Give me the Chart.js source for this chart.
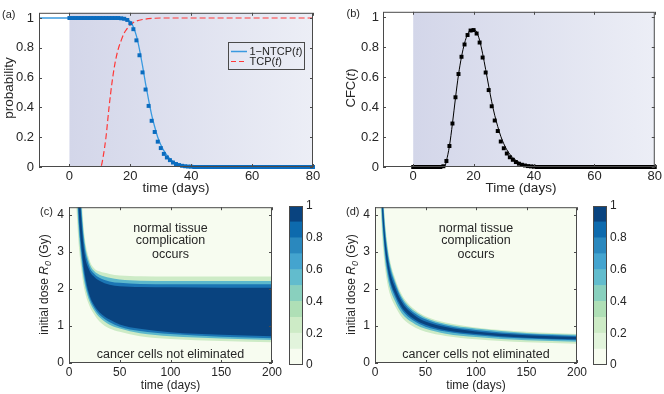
<!DOCTYPE html>
<html>
<head>
<meta charset="utf-8">
<script src="https://cdn.jsdelivr.net/npm/chart.js@4.4.1/dist/chart.umd.min.js"></script>
<style>
  body { margin: 0; background: #fff; }
  #fig { position: relative; width: 664px; height: 394px; overflow: hidden; }
  #fig canvas { position: absolute; }
</style>
</head>
<body>
<div id="fig">
  <canvas id="chartA" width="330" height="202" style="left:0px;top:0px"></canvas>
  <canvas id="chartB" width="334" height="202" style="left:330px;top:0px"></canvas>
  <canvas id="chartC" width="285" height="199" style="left:0px;top:195px"></canvas>
  <canvas id="barC" width="50" height="199" style="left:280px;top:195px"></canvas>
  <canvas id="chartD" width="262" height="199" style="left:330px;top:195px"></canvas>
  <canvas id="barD" width="50" height="199" style="left:584px;top:195px"></canvas>
</div>
<script>
const F = '"Liberation Sans", Arial, Helvetica, sans-serif';
Chart.defaults.font.family = F;
Chart.defaults.font.size = 12;
Chart.defaults.color = '#262626';

// ---- panel (a), (b): daily samples and model curves ----
const days = [0,1,2,3,4,5,6,7,8,9,10,11,12,13,14,15,16,17,18,19,20,21,22,23,24,25,26,27,28,29,
  30,31,32,33,34,35,36,37,38,39,40,41,42,43,44,45,46,47,48,49,50,51,52,53,54,55,56,57,58,59,
  60,61,62,63,64,65,66,67,68,69,70,71,72,73,74,75,76,77,78,79,80];
const ntcpMarks = [1,1,1,1,1,1,1,1,1,1,
  1,1,1,1,1,1,1,0.998,0.995,0.987,
  0.965,0.925,0.85,0.75,0.635,0.52,0.41,0.31,0.235,0.17,
  0.127,0.088,0.064,0.046,0.03,0.02,0.013,0.008,0.005,0.003,
  0.002,0,0,0,0,0,0,0,0,0,
  0,0,0,0,0,0,0,0,0,0,
  0,0,0,0,0,0,0,0,0,0,
  0,0,0,0,0,0,0,0,0,0,
  0];
const ntcpT = [-10,0,10,15,17,18,19,20,21,22,23,24,25,26,27,28,29,30,31,32,33,34,35,36,37,38,40,42,45,50,60,80];
const ntcpLine = [1,1,1,1,0.999,0.997,0.99,0.975,0.94,0.88,0.79,0.68,0.56,0.45,0.35,0.27,0.2,0.15,
  0.11,0.08,0.055,0.038,0.026,0.018,0.012,0.008,0.004,0.002,0,0,0,0];
const tcpT = [-10,10,10.5,11,12,13,14,15,16,17,18,19,20,21,22,24,27,30,40,80];
const tcpLine = [0,0,0.01,0.06,0.2,0.4,0.57,0.7,0.79,0.85,0.9,0.93,0.955,0.97,0.98,0.99,0.997,1,1,1];

const cfcMarks = [0,0,0,0,0,0,0,0,0,0,
  0.005,0.04,0.14,0.29,0.465,0.62,0.735,0.817,0.88,0.91,
  0.913,0.89,0.83,0.73,0.63,0.513,0.405,0.31,0.24,0.17,
  0.125,0.09,0.065,0.048,0.033,0.022,0.015,0.01,0.006,0.004,
  0.002,0,0,0,0,0,0,0,0,0,
  0,0,0,0,0,0,0,0,0,0,
  0,0,0,0,0,0,0,0,0,0,
  0,0,0,0,0,0,0,0,0,0,
  0];
const cfcT = [-10,10,10.5,11,12,13,14,15,16,17,18,19,20,21,22,23,24,25,26,27,28,29,30,31,32,33,34,35,36,37,38,40,43,46,80];
const cfcLine = [0,0,0.005,0.04,0.14,0.29,0.46,0.615,0.735,0.825,0.885,0.915,0.92,0.9,0.845,0.755,0.65,0.54,
  0.435,0.345,0.27,0.205,0.155,0.115,0.085,0.062,0.045,0.032,0.022,0.015,0.01,0.005,0.001,0,0];

const xTicksTop = [0, 20, 40, 60, 80];
const yTicksTop = [0, 0.2, 0.4, 0.6, 0.8, 1];

// ---- panel (c), (d): contour boundaries (dose in Gy) at each time ----
const heatT = [5, 7, 8, 10, 12, 15, 20, 25, 30, 40, 50, 70, 100, 150, 200];
const cHi10 = [10, 8, 7, 5.5, 4.6, 3.5, 2.8, 2.55, 2.47, 2.4, 2.36, 2.34, 2.33, 2.33, 2.33];
const cHi40 = [9.6, 7.6, 6.7, 5.35, 4.35, 3.35, 2.7, 2.47, 2.38, 2.3, 2.25, 2.22, 2.21, 2.21, 2.21];
const cHi70 = [9.3, 7.3, 6.5, 5.2, 4.15, 3.2, 2.6, 2.4, 2.3, 2.2, 2.16, 2.13, 2.12, 2.12, 2.12];
const cHi90 = [9, 7, 6.2, 5.0, 3.9, 3.0, 2.5, 2.32, 2.22, 2.11, 2.07, 2.05, 2.04, 2.03, 2.03];
const cLo90 = [7.5, 5.6, 5.0, 3.9, 3.2, 2.5, 1.85, 1.55, 1.37, 1.17, 1.04, 0.92, 0.83, 0.76, 0.72];
const cLo70 = [7.2, 5.2, 4.65, 3.65, 3.0, 2.35, 1.77, 1.48, 1.3, 1.1, 0.98, 0.86, 0.78, 0.71, 0.67];
const cLo40 = [6.9, 4.85, 4.3, 3.4, 2.8, 2.2, 1.68, 1.41, 1.23, 1.03, 0.93, 0.8, 0.72, 0.66, 0.62];
const cLo10 = [6.5, 4.4, 3.85, 3.05, 2.55, 2.0, 1.55, 1.3, 1.12, 0.93, 0.84, 0.72, 0.65, 0.59, 0.56];

const dHi10 = [6.79, 5.15, 4.62, 3.80, 3.28, 2.75, 2.28, 1.93, 1.70, 1.43, 1.26, 1.09, 0.96, 0.84, 0.78];
const dHi40 = [6.55, 4.97, 4.46, 3.67, 3.16, 2.66, 2.20, 1.86, 1.64, 1.38, 1.22, 1.05, 0.93, 0.81, 0.76];
const dHi70 = [6.32, 4.80, 4.31, 3.54, 3.05, 2.56, 2.13, 1.80, 1.58, 1.33, 1.18, 1.01, 0.89, 0.78, 0.73];
const dHi90 = [6.03, 4.58, 4.11, 3.38, 2.91, 2.44, 2.03, 1.72, 1.51, 1.27, 1.12, 0.97, 0.85, 0.75, 0.70];
const dLo90 = [5.51, 4.18, 3.75, 3.09, 2.66, 2.23, 1.85, 1.57, 1.38, 1.16, 1.03, 0.88, 0.78, 0.68, 0.64];
const dLo70 = [5.28, 4.00, 3.59, 2.96, 2.55, 2.14, 1.77, 1.50, 1.32, 1.11, 0.98, 0.85, 0.75, 0.66, 0.61];
const dLo40 = [4.93, 3.74, 3.36, 2.76, 2.38, 2.00, 1.66, 1.40, 1.23, 1.04, 0.92, 0.79, 0.70, 0.61, 0.57];
const dLo10 = [4.52, 3.43, 3.08, 2.54, 2.18, 1.83, 1.52, 1.29, 1.13, 0.95, 0.84, 0.73, 0.64, 0.56, 0.52];

const xTicksHeat = [0, 50, 100, 150, 200];
const yTicksHeat = [0, 1, 2, 3, 4];
const cbLevels = [0, 0.1, 0.2, 0.3, 0.4, 0.5, 0.6, 0.7, 0.8, 0.9, 1];
const cbTicks = [0, 0.2, 0.4, 0.6, 0.8, 1];

// colours
const cbColors = ['#f7fcf0','#e2f4dc','#cdebc6','#afdfb6','#89d0be','#62bccd','#44a4cf','#2a88be','#0d6aad','#09437f'];
const bandColors = ['#09437f', '#1b75b4', '#5cb8cc', '#cdebc6'];
const markBlue = '#0b6cbf', lineBlue = '#3a9ae0', red = '#ff3838';

const pts = (xs, ys) => xs.map((x, i) => ({ x: x, y: ys[i] }));
const n = s => s + 'px ' + F;
const it = s => 'italic ' + s + 'px ' + F;
const T = (s, f, dy) => ({ s: s, f: f, dy: dy || 0 });

function drawRich(ctx, parts, x, y, rot, align) {
  ctx.save();
  ctx.translate(x, y);
  if (rot) ctx.rotate(rot);
  ctx.textBaseline = 'middle';
  ctx.textAlign = 'left';
  ctx.fillStyle = '#262626';
  const ws = parts.map(p => { ctx.font = p.f; return ctx.measureText(p.s).width; });
  const total = ws.reduce((a, b) => a + b, 0);
  let cx = align === 'left' ? 0 : -total / 2;
  parts.forEach((p, i) => { ctx.font = p.f; ctx.fillText(p.s, cx, p.dy); cx += ws[i]; });
  ctx.restore();
}

// background of the plot area: gradient band or flat colour
const shade = {
  id: 'shade',
  beforeDatasetsDraw(chart, args, o) {
    const { ctx, chartArea: a } = chart;
    ctx.save();
    if (o.bg) {
      ctx.fillStyle = o.bg;
      ctx.fillRect(a.left, a.top, a.width, a.height);
    }
    if (o.span) {
      const x = chart.scales.x;
      const x0 = x.getPixelForValue(o.span[0]), x1 = x.getPixelForValue(o.span[1]);
      const g = ctx.createLinearGradient(x0, 0, x1, 0);
      g.addColorStop(0, '#d3d6e9');
      g.addColorStop(1, '#eceef6');
      ctx.fillStyle = g;
      ctx.fillRect(x0, a.top, x1 - x0, a.height);
    }
    ctx.restore();
  }
};

// matlab style box with inward ticks on all sides
const frame = {
  id: 'frame',
  afterDatasetsDraw(chart, args, o) {
    const { ctx, chartArea: a } = chart;
    ctx.save();
    ctx.strokeStyle = '#4a4a4a';
    ctx.lineWidth = 1;
    ctx.strokeRect(a.left + 0.5, a.top + 0.5, a.width - 1, a.height - 1);
    if (o.ticks) {
      const xs = chart.scales.x, ys = chart.scales.y, t = 3;
      ctx.beginPath();
      xs.ticks.forEach(k => {
        const p = Math.round(xs.getPixelForValue(k.value)) + 0.5;
        ctx.moveTo(p, a.bottom); ctx.lineTo(p, a.bottom - t);
        ctx.moveTo(p, a.top); ctx.lineTo(p, a.top + t);
      });
      ys.ticks.forEach(k => {
        const p = Math.round(ys.getPixelForValue(k.value)) + 0.5;
        ctx.moveTo(a.left, p); ctx.lineTo(a.left + t, p);
        ctx.moveTo(a.right, p); ctx.lineTo(a.right - t, p);
      });
      ctx.stroke();
    }
    ctx.restore();
  }
};

function texts(items) {
  return {
    id: 'texts',
    afterDraw(chart) {
      items.forEach(d => {
        let x = d.x, y = d.y;
        if (d.data) { x = chart.scales.x.getPixelForValue(d.x); y = chart.scales.y.getPixelForValue(d.y); }
        drawRich(chart.ctx, d.parts, x, y, d.rot || 0, d.align);
      });
    }
  };
}

const legendA = {
  id: 'legendA',
  afterDatasetsDraw(chart) {
    const ctx = chart.ctx;
    ctx.save();
    ctx.strokeStyle = '#4a4a4a'; ctx.lineWidth = 1;
    ctx.strokeRect(228.5, 42.5, 76, 27);
    ctx.strokeStyle = lineBlue; ctx.lineWidth = 1.5;
    ctx.beginPath(); ctx.moveTo(231, 51.5); ctx.lineTo(247, 51.5); ctx.stroke();
    ctx.strokeStyle = red; ctx.lineWidth = 1.2; ctx.setLineDash([5, 3]);
    ctx.beginPath(); ctx.moveTo(231, 61.5); ctx.lineTo(247, 61.5); ctx.stroke();
    ctx.restore();
    drawRich(ctx, [T('1\u2212NTCP(', n(11)), T('t', it(11)), T(')', n(11))], 249.5, 52, 0, 'left');
    drawRich(ctx, [T('TCP(', n(11)), T('t', it(11)), T(')', n(11))], 249.5, 62, 0, 'left');
  }
};

function axis(min, max, ticks, size, pad, fontSize) {
  return {
    type: 'linear', min: min, max: max,
    grid: { display: false, drawTicks: false },
    border: { display: false },
    ticks: { padding: pad, maxRotation: 0, autoSkip: false, font: { size: fontSize || 12 }, callback: v => String(v) },
    afterBuildTicks: s => { s.ticks = ticks.map(v => ({ value: v })); },
    afterFit: s => { if (s.isHorizontal()) s.height = size; else s.width = size; }
  };
}

function baseOptions(pad, scales, plugins) {
  return {
    responsive: false, animation: false, devicePixelRatio: 1, events: [],
    layout: { autoPadding: false, padding: pad },
    plugins: Object.assign({ legend: { display: false }, tooltip: { enabled: false } }, plugins),
    scales: scales
  };
}

// ---- (a) ----
new Chart(document.getElementById('chartA'), {
  type: 'line',
  data: { datasets: [
    { data: pts(days, ntcpMarks), showLine: false, pointStyle: 'rect', pointRadius: 2.8,
      backgroundColor: markBlue, pointBackgroundColor: markBlue, pointBorderWidth: 0, clip: false },
    { data: pts(tcpT, tcpLine), borderColor: red, borderWidth: 1.2, borderDash: [6, 3],
      pointRadius: 0, cubicInterpolationMode: 'monotone' },
    { data: pts(ntcpT, ntcpLine), borderColor: lineBlue, borderWidth: 1.3,
      pointRadius: 0, cubicInterpolationMode: 'monotone' }
  ]},
  options: baseOptions({ left: 0, right: 17, top: 9, bottom: 0 },
    { x: axis(-10, 80, xTicksTop, 35, 2, 13), y: axis(0, 1.035, yTicksTop, 39, 5, 13) },
    { shade: { span: [0, 80] }, frame: { ticks: true } }),
  plugins: [shade, frame, legendA, texts([
    { parts: [T('(a)', n(11))], x: 2, y: 15, align: 'left' },
    { parts: [T('probability', n(13.5))], x: 9, y: 88, rot: -Math.PI / 2 },
    { parts: [T('time (days)', n(13.5))], x: 176, y: 188.5 }
  ])]
});

// ---- (b) ----
new Chart(document.getElementById('chartB'), {
  type: 'line',
  data: { datasets: [
    { data: pts(days, cfcMarks), showLine: false, pointStyle: 'rect', pointRadius: 2.8,
      backgroundColor: '#000', pointBackgroundColor: '#000', pointBorderWidth: 0, clip: false },
    { data: pts(cfcT, cfcLine), borderColor: '#000', borderWidth: 1,
      pointRadius: 0, cubicInterpolationMode: 'monotone' }
  ]},
  options: baseOptions({ left: 0, right: 6, top: 9, bottom: 0 },
    { x: axis(-10, 80, xTicksTop, 35, 2, 13), y: axis(0, 1.035, yTicksTop, 53, 4, 13) },
    { shade: { span: [0, 80] }, frame: { ticks: true } }),
  plugins: [shade, frame, texts([
    { parts: [T('(b)', n(11))], x: 16.5, y: 14, align: 'left' },
    { parts: [T('CFC(', n(13)), T('t', it(13)), T(')', n(13))], x: 21, y: 88, rot: -Math.PI / 2 },
    { parts: [T('Time (days)', n(13.5))], x: 191, y: 188.5 }
  ])]
});

// ---- (c), (d) ----
function bandSets(bands) {
  const out = [];
  bands.forEach(b => {
    out.push({ data: pts(heatT, b.hi), fill: '+1', backgroundColor: b.color, borderColor: 'rgba(0,0,0,0)',
      borderWidth: 0, pointRadius: 0, cubicInterpolationMode: 'monotone' });
    out.push({ data: pts(heatT, b.lo), fill: false, borderColor: 'rgba(0,0,0,0)',
      borderWidth: 0, pointRadius: 0, cubicInterpolationMode: 'monotone' });
  });
  return out;
}

function heatChart(id, yW, rightPad, bands, items) {
  return new Chart(document.getElementById(id), {
    type: 'line',
    data: { datasets: bandSets(bands) },
    options: baseOptions({ left: 0, right: rightPad, top: 11, bottom: 0 },
      { x: axis(0, 200, xTicksHeat, 31, 2.5), y: axis(0, 4.2, yTicksHeat, yW, 5) },
      { shade: { bg: cbColors[0] }, frame: { ticks: true } }),
    plugins: [shade, frame, texts(items)]
  });
}

function colorbar(id) {
  const y = axis(0, 1, cbTicks, 27, 3, 12);
  y.position = 'right';
  return new Chart(document.getElementById(id), {
    type: 'bar',
    data: { labels: [''], datasets: cbColors.map((c, i) => ({
      data: [[cbLevels[i], cbLevels[i + 1]]], backgroundColor: c, borderWidth: 0,
      barPercentage: 1, categoryPercentage: 1, grouped: false })) },
    options: baseOptions({ left: 9, right: 0, top: 11, bottom: 29 },
      { x: { display: false }, y: y },
      { frame: { ticks: false } }),
    plugins: [frame]
  });
}

const yTitle = [T('initial dose ', n(12)), T('R', it(12)), T('0', it(9), 3), T(' (Gy)', n(12))];
const notes = [
  { parts: [T('normal tissue', n(12.5))], x: 100, y: 3.62, data: true },
  { parts: [T('complication', n(12.5))], x: 100, y: 3.29, data: true },
  { parts: [T('occurs', n(12.5))], x: 100, y: 2.93, data: true },
  { parts: [T('cancer cells not eliminated', n(12.5))], x: 100, y: 0.24, data: true }
];

heatChart('chartC', 69, 13, [
  { hi: cHi90, lo: cLo90, color: bandColors[0] },
  { hi: cHi70, lo: cLo70, color: bandColors[1] },
  { hi: cHi40, lo: cLo40, color: bandColors[2] },
  { hi: cHi10, lo: cLo10, color: bandColors[3] }
], notes.concat([
  { parts: [T('(c)', n(11))], x: 40, y: 17, align: 'left' },
  { parts: yTitle, x: 45, y: 89.5, rot: -Math.PI / 2 },
  { parts: [T('time (days)', n(12))], x: 170.5, y: 191 }
]));
colorbar('barC');

heatChart('chartD', 45, 15, [
  { hi: dHi90, lo: dLo90, color: bandColors[0] },
  { hi: dHi70, lo: dLo70, color: bandColors[1] },
  { hi: dHi40, lo: dLo40, color: bandColors[2] },
  { hi: dHi10, lo: dLo10, color: bandColors[3] }
], notes.concat([
  { parts: [T('(d)', n(11))], x: 16, y: 17, align: 'left' },
  { parts: yTitle, x: 22, y: 89.5, rot: -Math.PI / 2 },
  { parts: [T('time (days)', n(12))], x: 146, y: 191 }
]));
colorbar('barD');
</script>
</body>
</html>
